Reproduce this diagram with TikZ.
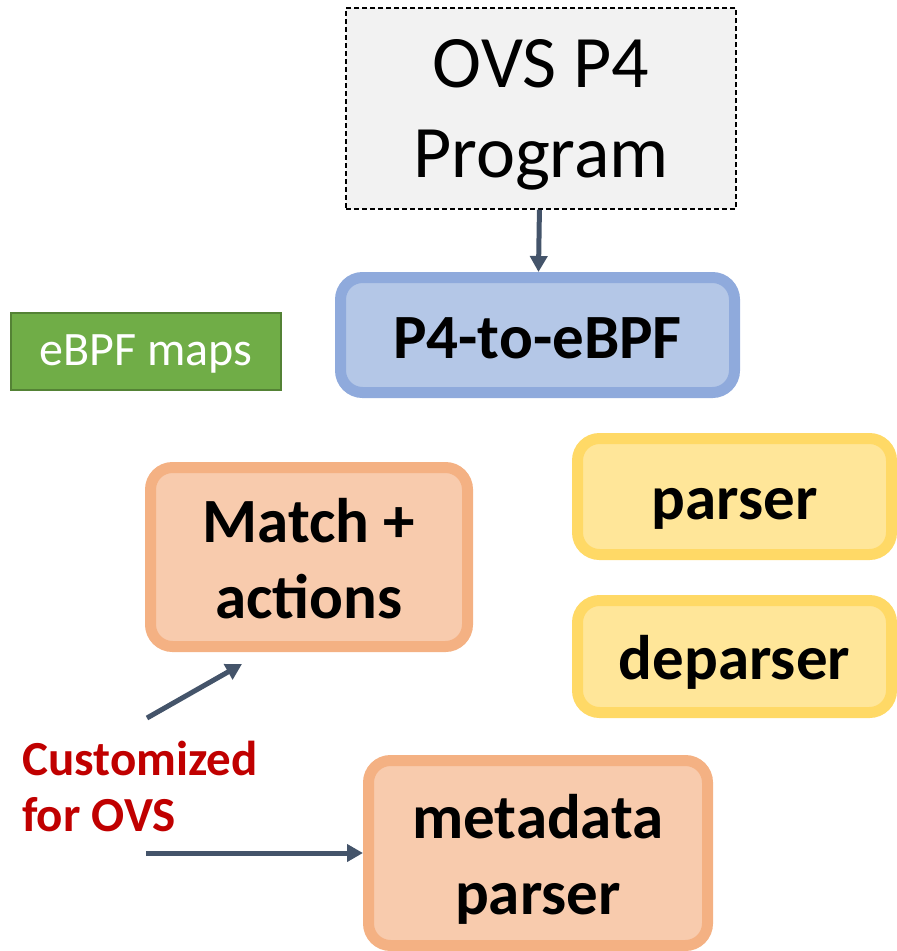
\documentclass[tikz,border=0pt]{standalone}
\usepackage{fontspec}
\setmainfont{Carlito}
\usetikzlibrary{arrows.meta}
\definecolor{slate}{HTML}{44546A}
\definecolor{darkred}{HTML}{C00000}
\newcommand{\linestrut}[2]{\rule[-#2em]{0pt}{\dimexpr#1em+#2em\relax}}
\newcommand{\blockstrut}{\linestrut{0.95}{0.22}}
\begin{document}
\begin{tikzpicture}[x=1pt,y=-1pt,
        every node/.style={inner sep=0pt,align=center},
        block/.style={draw,line width=11pt,rounded corners=22pt,
            font=\bfseries\fontsize{63}{76}\selectfont},
        orangeblock/.style={block,draw={rgb,255:red,244;green,177;blue,131},
            fill={rgb,255:red,248;green,203;blue,173}},
        yellowblock/.style={block,draw={rgb,255:red,255;green,217;blue,102},
            fill={rgb,255:red,255;green,230;blue,153}},
        arrow/.style={draw=slate,line width=5pt,-{Triangle[length=16pt,width=17pt]}}]
    \useasboundingbox (0,0) rectangle (897,951);
    \node[draw,dashed,dash pattern=on 5pt off 3pt,line width=1.5pt,fill=black!5,
        minimum width=390,minimum height=201,
        font=\fontsize{74}{90}\selectfont] (prog) at (541,108.5)
        {\linestrut{0.86}{0.22}OVS P4\\Program\linestrut{0.86}{0.22}};
    \node[block,draw={rgb,255:red,143;green,170;blue,220},fill={rgb,255:red,180;green,199;blue,231},
        minimum width=394,minimum height=115] (compiler) at (537.5,335) {\blockstrut P4-to-eBPF};
    \node[draw={rgb,255:red,84;green,130;blue,53},fill={rgb,255:red,112;green,173;blue,71},
        line width=2pt,minimum width=270,minimum height=77,text=white,
        font=\fontsize{48}{58}\selectfont] (maps) at (146,351.5) {\linestrut{0.8}{0.22}eBPF maps};
    \node[orangeblock,minimum width=317,minimum height=179] (match) at (309,557)
        {\blockstrut Match +\\actions\blockstrut};
    \node[yellowblock,minimum width=314,minimum height=116] (parser) at (734.5,496.5) {\blockstrut parser};
    \node[yellowblock,minimum width=314,minimum height=112] (deparser) at (734.5,656.5) {\blockstrut deparser};
    \node[orangeblock,minimum width=339,minimum height=185] (meta) at (538,853)
        {\blockstrut metadata\\parser\blockstrut};
    \node[anchor=north west,align=left,text=darkred,
        font=\bfseries\fontsize{49}{56}\selectfont] (custom) at (22,741) {Customized\\for OVS};
    \coordinate (up start) at (147,718);
    \coordinate (up end) at (242,664);
    \coordinate (right start) at (146,853);
    \draw[arrow] (prog) -- (compiler);
    \draw[arrow] (up start) -- (up end);
    \draw[arrow] (right start) -- (meta.west);
\end{tikzpicture}
\end{document}
